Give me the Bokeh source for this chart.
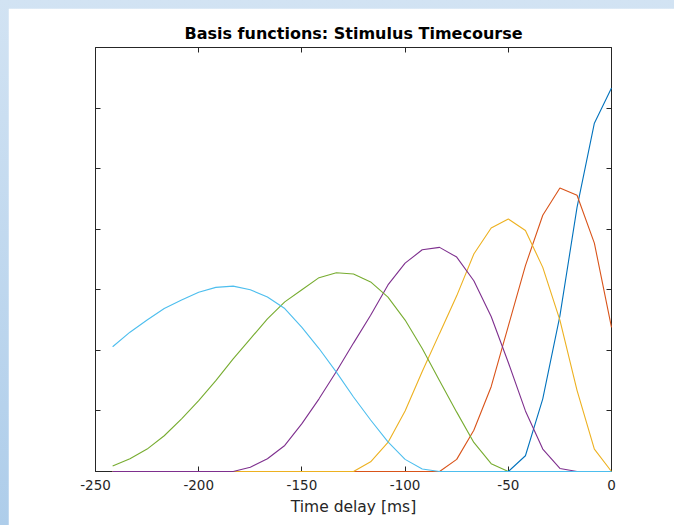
from bokeh.plotting import figure
from bokeh.models import Range1d, FixedTicker, LinearAxis, ColumnDataSource
from bokeh.layouts import column
from bokeh.embed import file_html
from bokeh.resources import INLINE

# ---- data ----
time_ms = [-241.7, -233.3, -225.0, -216.7, -208.3, -200.0, -191.7, -183.3, -175.0, -166.7,
           -158.3, -150.0, -141.7, -133.3, -125.0, -116.7, -108.3, -100.0, -91.7, -83.3,
           -75.0, -66.7, -58.3, -50.0, -41.7, -33.3, -25.0, -16.7, -8.3, 0.0]

basis_1 = [0] * 24 + [0.026, 0.120, 0.257, 0.436, 0.575, 0.633]
basis_2 = [0] * 20 + [0.020, 0.068, 0.140, 0.240, 0.340, 0.423, 0.468, 0.456, 0.377, 0.238]
basis_3 = [0] * 15 + [0.016, 0.048, 0.100, 0.165, 0.228, 0.290, 0.359, 0.402, 0.417, 0.398,
                      0.337, 0.250, 0.134, 0.037, 0.0]
basis_4 = [0] * 8 + [0.007, 0.021, 0.043, 0.079, 0.120, 0.165, 0.212, 0.258, 0.308, 0.344,
                     0.366, 0.370, 0.354, 0.315, 0.256, 0.180, 0.100, 0.037, 0.005] + [0] * 3
basis_5 = [0.009, 0.021, 0.037, 0.059, 0.087, 0.117, 0.150, 0.186, 0.219, 0.252,
           0.280, 0.300, 0.320, 0.328, 0.326, 0.313, 0.288, 0.250, 0.203, 0.150,
           0.098, 0.048, 0.013] + [0] * 7
basis_6 = [0.206, 0.230, 0.250, 0.269, 0.283, 0.296, 0.304, 0.306, 0.300, 0.288,
           0.269, 0.238, 0.203, 0.164, 0.123, 0.085, 0.049, 0.020, 0.004] + [0] * 11

series_names = ["basis_1", "basis_2", "basis_3", "basis_4", "basis_5", "basis_6"]
series_colors = ["#0072BD", "#D95319", "#EDB120", "#7E2F8E", "#77AC30", "#4DBEEE"]

x_ticks = [-250, -200, -150, -100, -50, 0]
x_tick_labels = ["-250", "-200", "-150", "-100", "-50", "0"]
y_ticks = [0.1, 0.2, 0.3, 0.4, 0.5, 0.6]

title_text = "Basis functions: Stimulus Timecourse"
x_label = "Time delay [ms]"

src = ColumnDataSource(dict(t=time_ms, basis_1=basis_1, basis_2=basis_2, basis_3=basis_3,
                            basis_4=basis_4, basis_5=basis_5, basis_6=basis_6))

AX = "#262626"
FONT = "DejaVu Sans"

p = figure(width=666, height=517, output_backend="svg", toolbar_location=None,
           x_range=Range1d(-250, 0), y_range=Range1d(0, 0.7),
           min_border_left=87, min_border_right=63, min_border_top=39, min_border_bottom=54,
           title=title_text)
p.margin = (8, 0, 0, 8)
p.background_fill_color = "white"
p.border_fill_color = "white"
p.outline_line_color = AX
p.outline_line_width = 1
p.grid.visible = False

p.title.align = "center"
p.title.text_font = FONT
p.title.text_font_style = "bold"
p.title.text_font_size = "16px"
p.title.text_color = "black"

for name, c in zip(series_names, series_colors):
    p.line(x="t", y=name, source=src, line_color=c, line_width=1.1, level="overlay")

def style_axis(ax, ticks, labels=None):
    ax.ticker = FixedTicker(ticks=ticks)
    ax.axis_line_color = AX
    ax.major_tick_line_color = AX
    ax.major_tick_in = 5
    ax.major_tick_out = 0
    ax.minor_tick_line_color = None
    ax.major_label_text_color = AX
    ax.major_label_text_font = FONT
    ax.major_label_text_font_size = "13.5px"
    if labels is None:
        ax.major_label_overrides = {v: "" for v in ticks}
    else:
        ax.major_label_overrides = {v: s for v, s in zip(ticks, labels)}

style_axis(p.xaxis[0], x_ticks, x_tick_labels)
p.xaxis[0].major_label_standoff = 8
p.xaxis[0].axis_label = x_label
p.xaxis[0].axis_label_text_font = FONT
p.xaxis[0].axis_label_text_font_style = "normal"
p.xaxis[0].axis_label_text_font_size = "15.5px"
p.xaxis[0].axis_label_text_color = AX
p.xaxis[0].axis_label_standoff = 5

style_axis(p.yaxis[0], y_ticks)

top_ax = LinearAxis()
style_axis(top_ax, x_ticks[1:-1])
p.add_layout(top_ax, "above")
right_ax = LinearAxis()
style_axis(right_ax, y_ticks)
p.add_layout(right_ax, "right")

layout = column(p, styles={"background": "linear-gradient(to bottom, #d2e3f3, #aecdea)"})

open("out.html", "w").write(file_html(layout, INLINE))
